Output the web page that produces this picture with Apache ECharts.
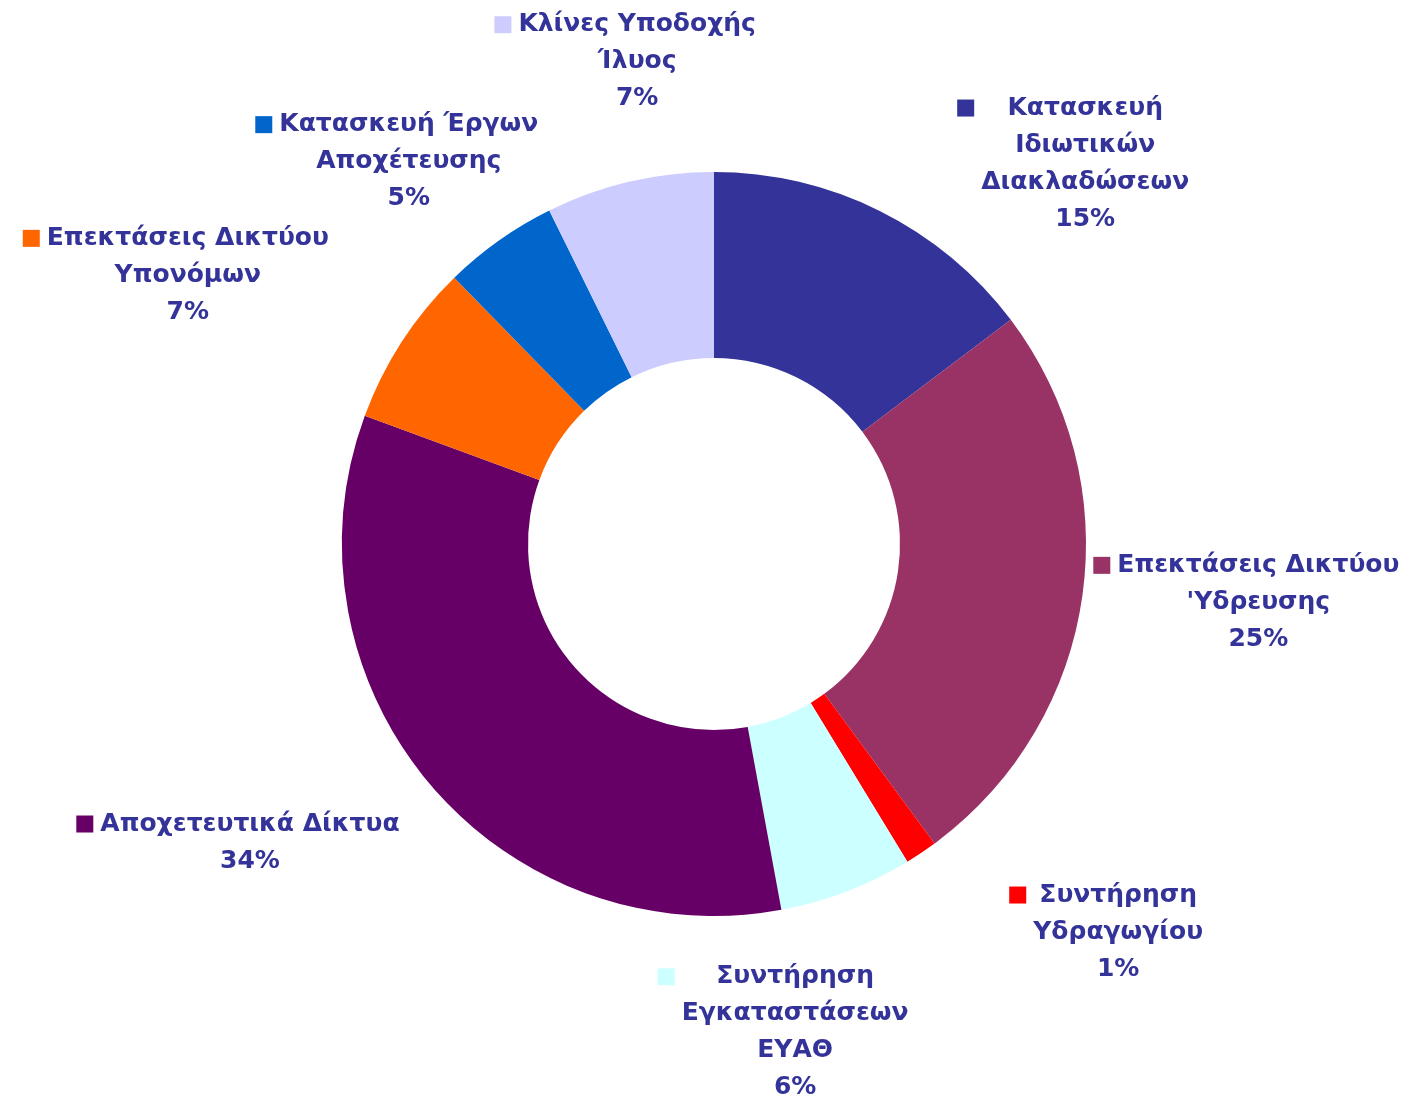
<!DOCTYPE html>
<html>
<head>
<meta charset="utf-8">
<script src="https://cdn.jsdelivr.net/npm/echarts@6/dist/echarts.min.js"></script>
<style>
  html, body { margin: 0; padding: 0; background: #fff; }
  #main { width: 1413px; height: 1097px; }
</style>
</head>
<body>
<div id="main"></div>
<script>
// categories, clockwise from 12 o'clock (line breaks as in the original labels)
const names = [
  'Κατασκευή\nΙδιωτικών\nΔιακλαδώσεων',
  'Επεκτάσεις Δικτύου\n\'Υδρευσης',
  'Συντήρηση\nΥδραγωγίου',
  'Συντήρηση\nΕγκαταστάσεων\nΕΥΑΘ',
  'Αποχετευτικά Δίκτυα',
  'Επεκτάσεις Δικτύου\nΥπονόμων',
  'Κατασκευή Έργων\nΑποχέτευσης',
  'Κλίνες Υποδοχής\nΊλυος'
];
// shares (%)
const values = [14.7, 25.2, 1.4, 5.8, 33.5, 7.1, 5.0, 7.3];
const colors = ['#333399', '#993366', '#FF0000', '#CCFFFF', '#660066', '#FF6600', '#0066CC', '#CCCCFF'];

const TEXT = '#333399';
const CENTER = [714, 544];
const R_IN = 186, R_OUT = 372;
const GAP = 14;
// hand nudges, like dragged Excel labels
const labelShift = [[140, 60], [-6, -20], [126, -9], [-103, 37], [-77, -38], [-85, 25], [-29, 25], [13, -46]];

const total = values.reduce((a, b) => a + b, 0);
const midAngle = [];
let acc = 0;
values.forEach(v => {
  midAngle.push((acc + v / 2) / total * Math.PI * 2);
  acc += v;
});

const rich = {
  t: { fontFamily: 'DejaVu Sans', fontWeight: 'bold', fontSize: 25, lineHeight: 37, color: TEXT, align: 'center' },
  g: { width: 7, height: 17, align: 'left' },
  s: { width: 24, height: 17, align: 'left' }
};
colors.forEach((c, i) => {
  rich['k' + i] = { width: 17, height: 17, backgroundColor: c, align: 'left' };
});

const chart = echarts.init(document.getElementById('main'), null, { renderer: 'canvas' });

chart.setOption({
  backgroundColor: '#fff',
  animation: false,
  series: [{
    type: 'pie',
    center: CENTER,
    radius: [R_IN, R_OUT],
    startAngle: 90,
    clockwise: true,
    percentPrecision: 0,
    avoidLabelOverlap: false,
    itemStyle: { borderWidth: 0 },
    emphasis: { disabled: true },
    labelLine: { show: false },
    label: {
      show: true,
      position: 'inside',
      rich: rich,
      formatter: function (p) {
        const lines = p.name.split('\n');
        lines.push(p.percent + '%');
        return lines.map((l, j) =>
          (j === 0 ? '{k' + p.dataIndex + '|}{g|}' : '{s|}') + '{t|' + l + '}'
        ).join('\n');
      }
    },
    labelLayout: function (p) {
      const a = midAngle[p.dataIndex];
      const ux = Math.sin(a), uy = -Math.cos(a);
      const hw = p.labelRect.width / 2, hh = p.labelRect.height / 2;
      const R = R_OUT + GAP;
      // push the label box out along the slice's mid ray until it clears the ring
      let d = R;
      for (; d < R + 400; d += 1) {
        const bx = ux * d, by = uy * d;
        const nx = Math.max(bx - hw, Math.min(0, bx + hw));
        const ny = Math.max(by - hh, Math.min(0, by + hh));
        if (Math.hypot(nx, ny) >= R) break;
      }
      const sh = labelShift[p.dataIndex];
      return {
        x: CENTER[0] + ux * d + sh[0],
        y: CENTER[1] + uy * d + sh[1],
        align: 'center',
        verticalAlign: 'middle'
      };
    },
    data: names.map((n, i) => ({ name: n, value: values[i], itemStyle: { color: colors[i] } }))
  }]
});
</script>
</body>
</html>
